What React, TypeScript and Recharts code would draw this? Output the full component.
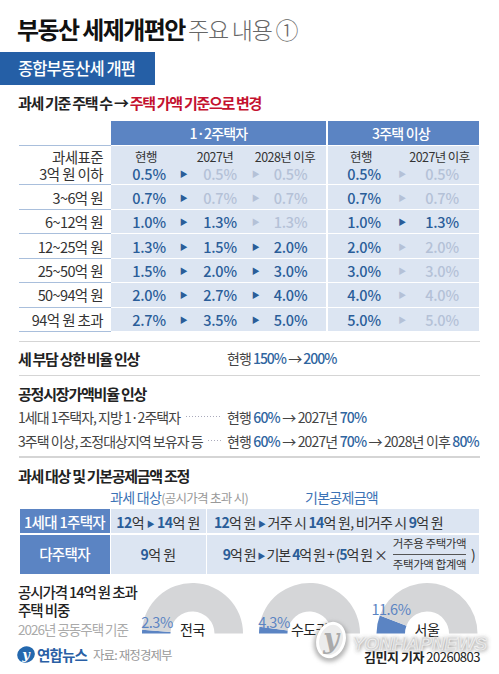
import { PieChart, Pie, Cell } from "recharts";

const brackets = ["3억 원 이하", "3~6억 원", "6~12억 원", "12~25억 원", "25~50억 원", "50~94억 원", "94억 원 초과"];
const oneTwoNow = ["0.5%", "0.7%", "1.0%", "1.3%", "1.5%", "2.0%", "2.7%"];
const oneTwo2027 = ["0.5%", "0.7%", "1.3%", "1.5%", "2.0%", "2.7%", "3.5%"];
const oneTwo2028 = ["0.5%", "0.7%", "1.3%", "2.0%", "3.0%", "4.0%", "5.0%"];
const threeNow = ["0.5%", "0.7%", "1.0%", "2.0%", "3.0%", "4.0%", "5.0%"];
const three2027 = ["0.5%", "0.7%", "1.3%", "2.0%", "3.0%", "4.0%", "5.0%"];

const regions = ["전국", "수도권", "서울"];
const shares = [2.3, 4.3, 11.6];

const BLUE = "#5b84c3";
const DARK = "#2a5d99";
const FADE = "#b4c1d7";
const CELL = "#dce5f2";
const FONT = '"Noto Sans CJK KR", "Noto Sans", sans-serif';

const rowY = [173.5, 197.5, 222, 246.5, 270.5, 295, 319.5];
const lineY = [145, 184, 209, 233, 258, 282, 307, 331];
const pieX = [192.5, 309.5, 427];
const pieLabelX = [157, 274, 391];

function T({ x, y, size = 14, weight = 400, color = "#222", align = "left", sp = -0.6, children }: any) {
  const tx = align === "center" ? "-50%" : align === "right" ? "-100%" : "0";
  return (
    <div
      style={{
        position: "absolute",
        left: x,
        top: y,
        transform: `translate(${tx}, -50%)`,
        fontSize: size,
        fontWeight: weight,
        color,
        letterSpacing: sp,
        whiteSpace: "nowrap",
        lineHeight: 1,
      }}
    >
      {children}
    </div>
  );
}

function Box({ x, y, w, h, bg }: any) {
  return <div style={{ position: "absolute", left: x, top: y, width: w, height: h, background: bg }} />;
}

const B = ({ children }: any) => <span style={{ color: DARK, fontWeight: 700 }}>{children}</span>;
const Blue = ({ children }: any) => <span style={{ color: "#2f659f", fontWeight: 500 }}>{children}</span>;
const Arrow = () => <span style={{ color: DARK, fontSize: 8, verticalAlign: 1 }}>▶</span>;

// a cell is faded when the rate stays the same as the step before it
function RateRow({ i }: { i: number }) {
  const y = rowY[i];
  const a = oneTwo2027[i] === oneTwoNow[i];
  const b = oneTwo2028[i] === oneTwo2027[i];
  const c = three2027[i] === threeNow[i];
  return (
    <>
      <T x={103} y={y} size={14.5} align="right" color="#333">{brackets[i]}</T>
      <T x={149} y={y} size={14.5} weight={500} color={DARK} align="center" sp={-0.2}>{oneTwoNow[i]}</T>
      <T x={183.5} y={y} size={8} color={DARK} align="center">▶</T>
      <T x={220} y={y} size={14.5} weight={500} color={a ? FADE : DARK} align="center" sp={-0.2}>{oneTwo2027[i]}</T>
      <T x={255.5} y={y} size={8} color={b ? FADE : DARK} align="center">▶</T>
      <T x={290.5} y={y} size={14.5} weight={500} color={b ? FADE : DARK} align="center" sp={-0.2}>{oneTwo2028[i]}</T>
      <T x={364} y={y} size={14.5} weight={500} color={DARK} align="center" sp={-0.2}>{threeNow[i]}</T>
      <T x={402} y={y} size={8} color={c ? FADE : DARK} align="center">▶</T>
      <T x={442} y={y} size={14.5} weight={500} color={c ? FADE : DARK} align="center" sp={-0.2}>{three2027[i]}</T>
    </>
  );
}

export default function App() {
  return (
    <div style={{ position: "absolute", left: 0, top: 0, width: 499, height: 674, overflow: "hidden", background: "#fff", fontFamily: FONT }}>
      <T x={17} y={29} size={24} weight={700} color="#111" sp={-1.6}>부동산 세제개편안</T>
      <T x={188} y={29} size={23} weight={300} color="#666" sp={-1.2}>주요 내용 ①</T>

      <Box x={0} y={52} w={154.5} h={32.5} bg="#255fa6" />
      <T x={18} y={68} size={16.5} weight={500} color="#fff" sp={-0.9}>종합부동산세 개편</T>

      <T x={18} y={102} size={15} weight={700} color="#222" sp={-1.3}>
        과세 기준 주택 수 → <span style={{ color: "#c4122f" }}>주택 가액 기준으로 변경</span>
      </T>

      <Box x={111} y={121} w={215} h={24} bg={BLUE} />
      <Box x={328} y={121} w={151} h={24} bg={BLUE} />
      <Box x={111} y={146} w={215} h={185} bg={CELL} />
      <Box x={328} y={146} w={151} h={185} bg={CELL} />
      {lineY.map((y, i) => (
        <div key={i}>
          <Box x={19} y={y} w={92} h={1.2} bg="#a9bfdc" />
          {i > 0 && i < 7 && <Box x={111} y={y} w={368} h={1.2} bg="#fff" />}
        </div>
      ))}
      <T x={218.5} y={133} size={14} weight={500} color="#fff" align="center" sp={-0.8}>1·2주택자</T>
      <T x={401} y={133} size={14} weight={500} color="#fff" align="center" sp={-0.8}>3주택 이상</T>

      <T x={103} y={156.5} size={14.5} align="right" color="#333">과세표준</T>
      <T x={146} y={156.5} size={12.5} align="center" color="#333">현행</T>
      <T x={215} y={156.5} size={12.5} align="center" color="#333">2027년</T>
      <T x={285} y={156.5} size={12.5} align="center" color="#333">2028년 이후</T>
      <T x={361} y={156.5} size={12.5} align="center" color="#333">현행</T>
      <T x={439.5} y={156.5} size={12.5} align="center" color="#333">2027년 이후</T>
      {brackets.map((_, i) => <RateRow key={i} i={i} />)}

      <Box x={19} y={341} w={461} h={1.2} bg="#d5d5d5" />
      <T x={18} y={358} size={15} weight={700} sp={-1.3}>세 부담 상한 비율 인상</T>
      <T x={227} y={358} size={14} color="#444" sp={-1}>현행 <Blue>150%</Blue> → <Blue>200%</Blue></T>
      <Box x={19} y={375} w={461} h={1.2} bg="#d5d5d5" />
      <T x={18} y={392.5} size={15} weight={700} sp={-1.2}>공정시장가액비율 인상</T>
      <T x={18} y={417} size={14} color="#444" sp={-1}>1세대 1주택자, 지방 1·2주택자</T>
      <Box x={186} y={416} w={35} h={1} bg="repeating-linear-gradient(90deg,#aab,#aab 1px,#fff 1px,#fff 3px)" />
      <T x={227} y={417} size={14} color="#444" sp={-0.85}>현행 <Blue>60%</Blue> → 2027년 <Blue>70%</Blue></T>
      <T x={18} y={440.5} size={14} color="#444" sp={-1}>3주택 이상, 조정대상지역 보유자 등</T>
      <Box x={208} y={440} w={13} h={1} bg="repeating-linear-gradient(90deg,#aab,#aab 1px,#fff 1px,#fff 3px)" />
      <T x={227} y={440.5} size={14} color="#444" sp={-0.85}>현행 <Blue>60%</Blue> → 2027년 <Blue>70%</Blue> → 2028년 이후 <Blue>80%</Blue></T>
      <Box x={19} y={456} w={461} h={2} bg="#d5d5d5" />

      <T x={18} y={475} size={15} weight={700} sp={-1.3}>과세 대상 및 기본공제금액 조정</T>
      <T x={110} y={496.5} size={14} color="#3b72b5" sp={-0.7}>과세 대상<span style={{ color: "#999", fontSize: 12.5 }}>(공시가격 초과 시)</span></T>
      <T x={341.5} y={496.5} size={14} color="#3b72b5" align="center" sp={-0.7}>기본공제금액</T>

      <Box x={19.5} y={509} w={90} h={24} bg={BLUE} />
      <Box x={19.5} y={534.5} w={90} h={39} bg={BLUE} />
      <Box x={110.5} y={509} w={95} h={24} bg={CELL} />
      <Box x={110.5} y={534.5} w={95} h={39} bg={CELL} />
      <Box x={207} y={509} w={272} h={24} bg={CELL} />
      <Box x={207} y={534.5} w={272} h={39} bg={CELL} />
      <T x={64.5} y={521.5} size={14.5} weight={500} color="#fff" align="center" sp={-0.7}>1세대 1주택자</T>
      <T x={64.5} y={554} size={14.5} weight={500} color="#fff" align="center" sp={-0.7}>다주택자</T>
      <T x={158} y={521.5} size={14} color="#333" align="center" sp={-0.5}><B>12</B>억 <Arrow /> <B>14</B>억 원</T>
      <T x={158} y={554} size={14} color="#333" align="center" sp={-0.5}><B>9</B>억 원</T>
      <T x={214} y={521.5} size={14} color="#333" sp={-0.77}><B>12</B>억 원 <Arrow /> 거주 시 <B>14</B>억 원, 비거주 시 <B>9</B>억 원</T>
      <T x={387} y={554} size={14} color="#333" align="right" sp={-1.1}><B>9</B>억 원 <Arrow /> 기본 <B>4</B>억 원 + (<B>5</B>억 원 ×</T>
      <T x={429.5} y={544} size={11.5} color="#333" align="center" sp={-0.4}>거주용 주택가액</T>
      <Box x={393} y={553.5} w={73} h={1} bg="#555" />
      <T x={429.5} y={564.5} size={11.5} color="#333" align="center" sp={-0.4}>주택가액 합계액</T>
      <T x={473} y={554} size={14} color="#333" align="center">)</T>

      <T x={18} y={591.5} size={14.5} weight={500} sp={-1.1}>공시가격 14억 원 초과</T>
      <T x={18} y={609.5} size={14.5} weight={500} sp={-1.1}>주택 비중</T>
      <T x={18} y={629.5} size={13.5} color="#aaa" sp={-1}>2026년 공동주택 기준</T>

      <div style={{ position: "absolute", left: 0, top: 570 }}>
        <PieChart width={499} height={70} margin={{ top: 0, right: 0, bottom: 0, left: 0 }}>
          {regions.map((r, i) => (
            <Pie
              key={r}
              data={[
                { name: r, value: shares[i] },
                { name: "기타", value: 100 - shares[i] },
              ]}
              dataKey="value"
              cx={pieX[i]}
              cy={63.5}
              startAngle={180}
              endAngle={0}
              innerRadius={22}
              outerRadius={50.5}
              stroke="none"
              isAnimationActive={false}
            >
              <Cell fill={BLUE} />
              <Cell fill="#d5d6d8" />
            </Pie>
          ))}
        </PieChart>
      </div>
      {regions.map((r, i) => (
        <div key={r}>
          <T x={pieX[i]} y={629} size={14} color="#222" align="center" sp={-0.5}>{r}</T>
          <T x={pieLabelX[i]} y={i === 2 ? 608.5 : 621.5} size={14.5} color={BLUE} align="center" sp={-0.5}>{shares[i]}%</T>
        </div>
      ))}

      <svg style={{ position: "absolute", left: 0, top: 0 }} width={499} height={674}>
        <defs>
          <filter id="soft" x="-30%" y="-30%" width="160%" height="160%">
            <feGaussianBlur stdDeviation="2" />
          </filter>
        </defs>
        <ellipse cx={26} cy={654.5} rx={9} ry={8} fill="#2468ae" transform="rotate(-25 26 654.5)" />
        <text x={26} y={659} fontSize={13} fontWeight={700} fontStyle="italic" fill="#fff" textAnchor="middle" fontFamily="DejaVu Serif">y</text>
        <ellipse cx={331} cy={642} rx={17} ry={20} fill="#777" fillOpacity={0.55} filter="url(#soft)" transform="rotate(18 331 642)" />
        <ellipse cx={331} cy={640} rx={13} ry={17} fill="#ececec" stroke="#fff" strokeWidth={3} transform="rotate(18 331 640)" />
        <text x={331} y={648} fontSize={27} fontStyle="italic" fontWeight={700} fill="#aaa" textAnchor="middle" fontFamily="DejaVu Serif">y</text>
        <text x={353} y={651} fontSize={19} fontWeight={700} fontStyle="italic" fill="#555" fillOpacity={0.7} textLength={135} fontFamily="Liberation Sans" filter="url(#soft)">YONHAPNEWS</text>
        <text x={352} y={650} fontSize={19} fontWeight={700} fontStyle="italic" fill="#d4d4d4" stroke="#f4f4f4" strokeWidth={0.7} textLength={135} fontFamily="Liberation Sans">YONHAPNEWS</text>
      </svg>
      <T x={37} y={655} size={14.5} weight={700} color="#2a5fa5" sp={-0.8}>연합뉴스</T>
      <T x={93} y={655} size={12.5} color="#999" sp={-0.9}>자료: 재정경제부</T>
      <T x={480} y={656} size={13} color="#222" align="right" sp={-0.5}><b>김민지 기자</b> 20260803</T>
    </div>
  );
}
